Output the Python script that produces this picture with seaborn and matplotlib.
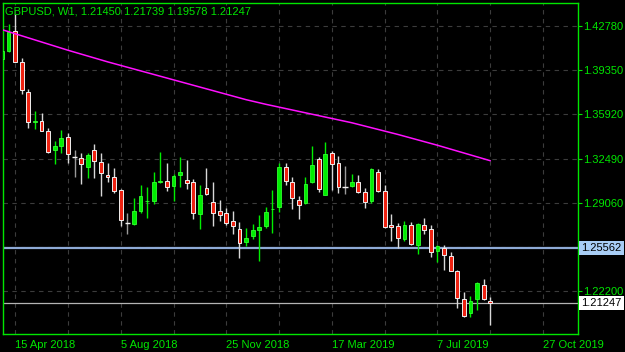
import numpy as np
import pandas as pd
import matplotlib
matplotlib.use("Agg")
import matplotlib.pyplot as plt
import seaborn as sns

# ---------------- data ----------------
week_index = list(range(-2, 73))  # 0 = week of 15 Apr 2018
opens = [1.4022, 1.4084, 1.4239, 1.3996, 1.3763, 1.3530, 1.3540, 1.3463, 1.3315, 1.3346,
         1.3414, 1.3263, 1.3251, 1.3186, 1.3315, 1.3224, 1.3119, 1.3108, 1.3005, 1.2751,
         1.2741, 1.2844, 1.2916, 1.2919, 1.3068, 1.3075, 1.3036, 1.3123, 1.3082, 1.3069,
         1.2818, 1.3018, 1.2909, 1.2842, 1.2824, 1.2764, 1.2700, 1.2603, 1.2648, 1.2694,
         1.2725, 1.2854, 1.2875, 1.3181, 1.3064, 1.2927, 1.2906, 1.3069, 1.3243, 1.2966,
         1.3290, 1.3212, 1.3030, 1.3038, 1.3069, 1.2987, 1.2922, 1.3142, 1.2997, 1.2731,
         1.2725, 1.2624, 1.2733, 1.2580, 1.2731, 1.2700, 1.2531, 1.2557, 1.2492, 1.2378,
         1.2156, 1.2052, 1.2161, 1.2265, 1.21450]
highs = [1.4110, 1.4294, 1.4369, 1.4027, 1.3789, 1.3618, 1.3605, 1.3484, 1.3385, 1.3471,
         1.3450, 1.3315, 1.3290, 1.3290, 1.3360, 1.3294, 1.3212, 1.3173, 1.3013, 1.2824,
         1.2940, 1.3044, 1.3030, 1.3147, 1.3302, 1.3217, 1.3129, 1.3259, 1.3238, 1.3088,
         1.3044, 1.3173, 1.3069, 1.2927, 1.2863, 1.2842, 1.2759, 1.2707, 1.2738, 1.2811,
         1.2870, 1.3005, 1.3212, 1.3212, 1.3108, 1.2958, 1.3108, 1.3346, 1.3259, 1.3377,
         1.3310, 1.3269, 1.3193, 1.3129, 1.3119, 1.3018, 1.3176, 1.3165, 1.3044, 1.2818,
         1.2751, 1.2766, 1.2759, 1.2751, 1.2785, 1.2733, 1.2578, 1.2578, 1.2521, 1.2384,
         1.2210, 1.2182, 1.2293, 1.2316, 1.21739]
lows = [1.3990, 1.4078, 1.3996, 1.3748, 1.3488, 1.3480, 1.3460, 1.3294, 1.3204, 1.3294,
        1.3212, 1.3103, 1.3051, 1.3096, 1.3100, 1.2958, 1.3069, 1.2979, 1.2725, 1.2663,
        1.2731, 1.2828, 1.2785, 1.2896, 1.3057, 1.2999, 1.2919, 1.3030, 1.3010, 1.2777,
        1.2700, 1.2966, 1.2728, 1.2766, 1.2733, 1.2663, 1.2479, 1.2570, 1.2622, 1.2456,
        1.2707, 1.2673, 1.2836, 1.3044, 1.2855, 1.2777, 1.2896, 1.3057, 1.2991, 1.2964,
        1.3005, 1.2979, 1.2974, 1.3026, 1.2979, 1.2867, 1.2906, 1.2991, 1.2710, 1.2609,
        1.2557, 1.2609, 1.2578, 1.2508, 1.2663, 1.2482, 1.2448, 1.2384, 1.2375, 1.2086,
        1.2021, 1.2021, 1.2073, 1.2151, 1.19578]
closes = [1.4084, 1.4234, 1.4001, 1.3779, 1.3530, 1.3540, 1.3463, 1.3297, 1.3346, 1.3406,
          1.3282, 1.3263, 1.3204, 1.3276, 1.3232, 1.3134, 1.3103, 1.2999, 1.2772, 1.2751,
          1.2844, 1.2958, 1.2922, 1.3067, 1.3075, 1.3030, 1.3113, 1.3147, 1.3061, 1.2828,
          1.2966, 1.2971, 1.2824, 1.2808, 1.2751, 1.2723, 1.2591, 1.2630, 1.2694, 1.2720,
          1.2836, 1.2860, 1.3186, 1.3077, 1.2940, 1.2886, 1.3051, 1.3199, 1.3010, 1.3284,
          1.3207, 1.3026, 1.3030, 1.3067, 1.2987, 1.2909, 1.3165, 1.2997, 1.2714, 1.2715,
          1.2630, 1.2733, 1.2585, 1.2741, 1.2694, 1.2521, 1.2570, 1.2500, 1.2378, 1.2164,
          1.2029, 1.2141, 1.2285, 1.2161, 1.21247]
ma_values = [1.4250, 1.4234, 1.4218, 1.4202, 1.4186, 1.4170, 1.4154, 1.4138, 1.4122, 1.4106,
             1.4090, 1.4075, 1.4060, 1.4045, 1.4030, 1.4015, 1.4000, 1.3986, 1.3972, 1.3958,
             1.3944, 1.3930, 1.3916, 1.3902, 1.3888, 1.3874, 1.3860, 1.3846, 1.3832, 1.3818,
             1.3804, 1.3790, 1.3776, 1.3762, 1.3748, 1.3734, 1.3720, 1.3706, 1.3694, 1.3682,
             1.3670, 1.3659, 1.3648, 1.3637, 1.3626, 1.3615, 1.3604, 1.3593, 1.3582, 1.3571,
             1.3560, 1.3549, 1.3538, 1.3527, 1.3514, 1.3501, 1.3488, 1.3475, 1.3462, 1.3449,
             1.3436, 1.3422, 1.3408, 1.3394, 1.3380, 1.3366, 1.3352, 1.3337, 1.3322, 1.3307,
             1.3292, 1.3277, 1.3262, 1.3247, 1.3232]

price_ticks = [1.42780, 1.39350, 1.35920, 1.32490, 1.29060, 1.22200]
date_tick_index = [0, 16, 32, 48, 64, 80]
date_tick_labels = ["15 Apr 2018", "5 Aug 2018", "25 Nov 2018", "17 Mar 2019", "7 Jul 2019", "27 Oct 2019"]
grid_index = [0, 8, 16, 24, 32, 40, 48, 56, 64, 72, 80]
level_blue = 1.25562
level_last = 1.21247
title_text = "GBPUSD, W1, 1.21450 1.21739 1.19578 1.21247"

# ---------------- style ----------------
BG = "#000000"
FG = "#00e600"
UP = "#00ee00"
DOWN = "#ee2211"
GRID = "#3c3c3c"

sns.set_style("dark")
plt.rcParams["font.family"] = ["Liberation Sans", "DejaVu Sans"]

df = pd.DataFrame({"i": week_index, "open": opens, "high": highs, "low": lows,
                   "close": closes, "ma": ma_values})

fig = plt.figure(figsize=(6.25, 3.52), dpi=100, facecolor=BG)
ax = fig.add_axes([2.5 / 625, 1 - 334 / 352, (578 - 2.5) / 625, (334 - 2.5) / 352])
ax.set_facecolor(BG)

# grid
for g in grid_index:
    ax.axvline(g, color=GRID, lw=0.8, ls=(0, (4, 4)), zorder=0)
for p in price_ticks + [1.25630]:
    ax.axhline(p, color=GRID, lw=0.8, ls=(0, (4, 4)), zorder=0)

# level lines
ax.axhline(level_blue, color="#8eaad6", lw=1.6, zorder=1)
ax.axhline(level_last, color="#b4b4b4", lw=0.9, zorder=1)

# candles
up = df["close"] > df["open"]
down = df["close"] < df["open"]
flat = df["close"] == df["open"]
wick_colors = np.where(up, UP, np.where(down, "#d8d8d8", "#9a9a9a"))
ax.vlines(df["i"], df["low"], df["high"], colors=wick_colors, lw=1.0, zorder=2)

body_bottom = np.minimum(df["open"], df["close"])
body_h = np.abs(df["close"] - df["open"])
d = df[up]
ax.bar(d["i"], body_h[up], bottom=body_bottom[up], width=0.55, color=UP,
       edgecolor="#30ff30", lw=0.6, zorder=3)
d = df[down]
ax.bar(d["i"], body_h[down], bottom=body_bottom[down], width=0.55, color=DOWN,
       edgecolor="#f0f0f0", lw=0.7, zorder=3)
d = df[flat]
ax.hlines(d["open"], d["i"] - 0.4, d["i"] + 0.4, colors="#f0f0f0", lw=1.0, zorder=3)

# moving average
sns.lineplot(data=df, x="i", y="ma", color="#ff10ff", lw=1.1, ax=ax, zorder=4)

ax.set_xlim(-1.91, 85.29)
ax.set_ylim(1.18867, 1.44605)

# axes styling
for s in ax.spines.values():
    s.set_color(FG)
    s.set_linewidth(1.0)
ax.yaxis.tick_right()
ax.set_yticks(price_ticks)
ax.set_yticklabels([f"{p:.5f}" for p in price_ticks])
ax.set_xticks(date_tick_index)
ax.set_xticklabels(date_tick_labels, ha="left")
for lbl in ax.get_xticklabels():
    lbl.set_clip_on(False)
ax.tick_params(axis="y", colors=FG, labelcolor=FG, length=3, width=0.8, pad=1, labelsize=8)
ax.tick_params(axis="x", colors=FG, labelcolor=FG, length=3, width=0.8, pad=1.5, labelsize=8)
ax.set_xlabel("")
ax.set_ylabel("")
ax.grid(False)

# price boxes on right axis
tr = ax.get_yaxis_transform()
ax.text(1.006, level_blue, f"{level_blue:.5f}", transform=tr, ha="left", va="center",
        fontsize=8, color="#000000", clip_on=False,
        bbox=dict(boxstyle="square,pad=0.18", fc="#a8cdf5", ec="none"))
ax.text(1.006, level_last, f"{level_last:.5f}", transform=tr, ha="left", va="center",
        fontsize=8, color="#000000", clip_on=False,
        bbox=dict(boxstyle="square,pad=0.18", fc="#ffffff", ec="none"))

fig.text(5 / 625, 1 - 11 / 352, title_text, color=FG, fontsize=8, ha="left", va="center")

fig.savefig("out.png", dpi=100, facecolor=BG)
